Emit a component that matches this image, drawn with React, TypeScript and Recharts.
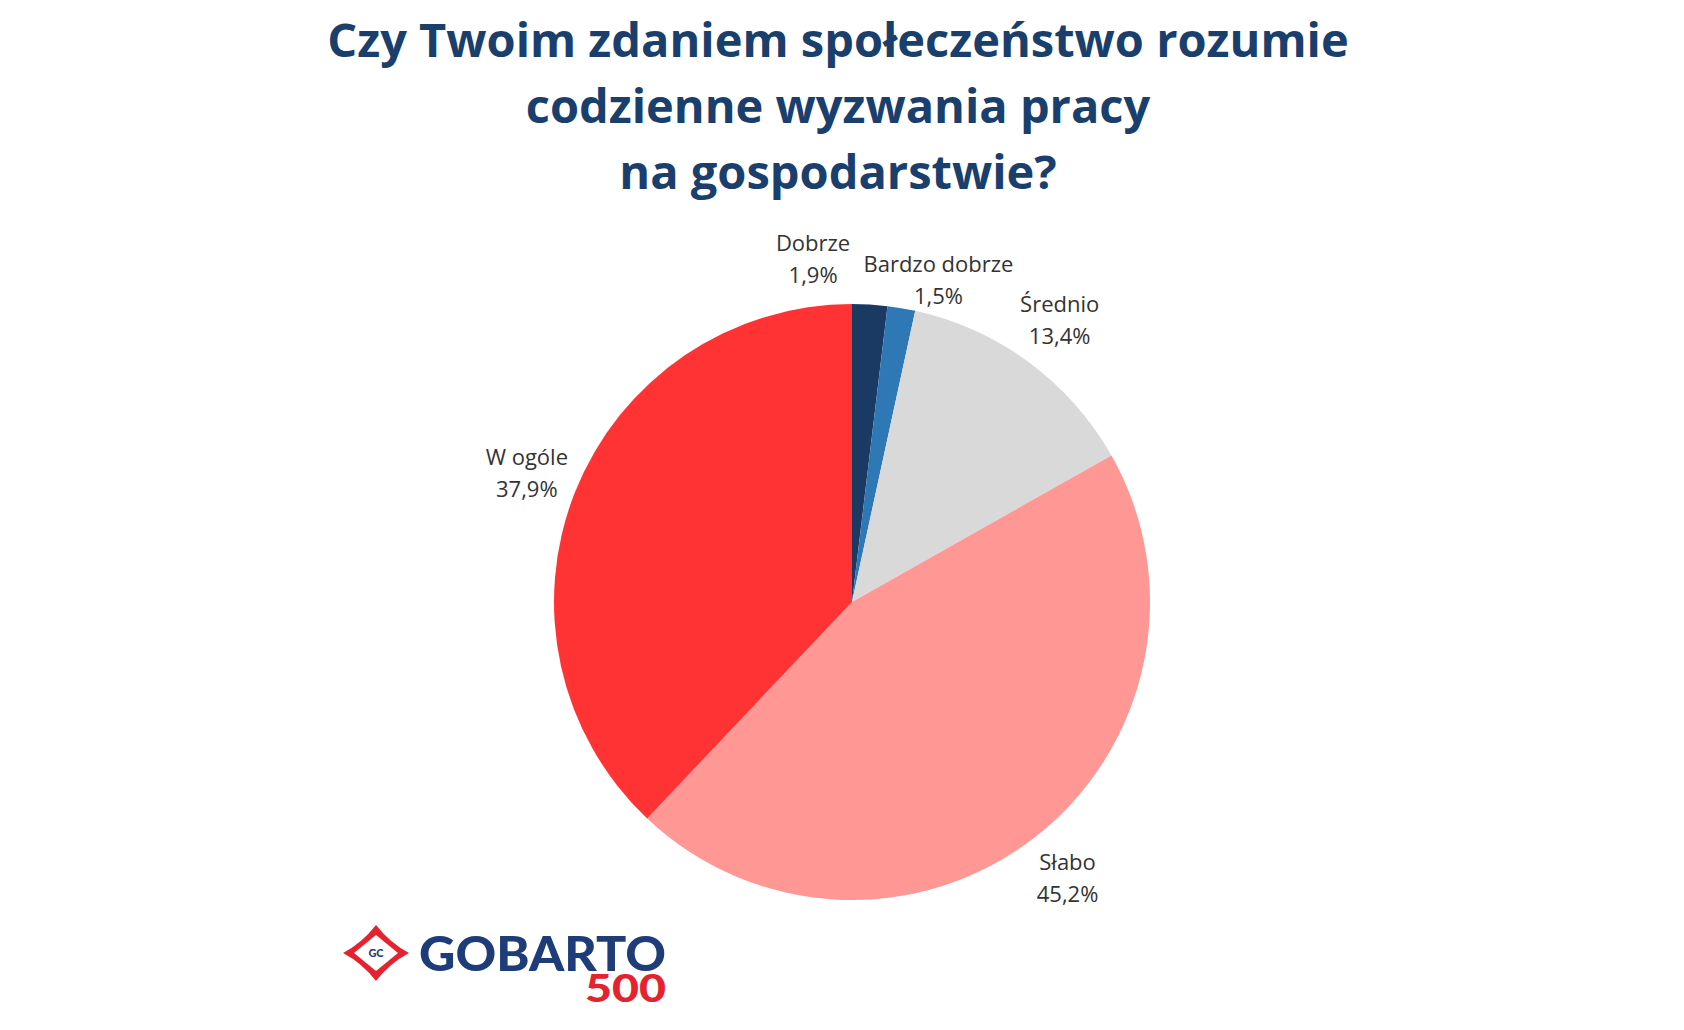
import React from "react";
import { PieChart, Pie, Cell } from "recharts";

const categories = ["Dobrze", "Bardzo dobrze", "Średnio", "Słabo", "W ogóle"];
const values = [1.9, 1.5, 13.4, 45.2, 37.9];
const colors = ["#1b3a63", "#2e78b5", "#d9d9d9", "#ff9795", "#ff3334"];
const titleLines = [
  "Czy Twoim zdaniem społeczeństwo rozumie",
  "codzienne wyzwania pracy",
  "na gospodarstwie?",
];

// label placement tweaks (clockwise degrees, radial distance)
const labelAngleShift: Record<string, number> = { Dobrze: -9.9, "Bardzo dobrze": 5.5 };
const labelDist: Record<string, number> = { Dobrze: 345, "Bardzo dobrze": 333 };

const data = categories.map((name, i) => ({ name, value: values[i] }));

const RAD = Math.PI / 180;

const renderLabel = (props: any) => {
  const { cx, cy, midAngle, name, value } = props;
  const theta = 90 - midAngle + (labelAngleShift[name] ?? 0);
  const dist = labelDist[name] ?? 350;
  const x = cx + dist * Math.sin(theta * RAD);
  const y = cy - dist * Math.cos(theta * RAD);
  const pct = value.toFixed(1).replace(".", ",") + "%";
  return (
    <text
      x={x}
      y={y}
      textAnchor="middle"
      fill="#333333"
      fontFamily="'Open Sans', sans-serif"
      fontSize={22}
    >
      <tspan x={x} y={y - 8}>{name}</tspan>
      <tspan x={x} y={y + 24}>{pct}</tspan>
    </text>
  );
};

export default function App() {
  return (
    <div style={{ position: "absolute", left: 0, top: 0, width: 1684, height: 1030, background: "#fff" }}>
      <PieChart width={1684} height={1030} margin={{ top: 0, right: 0, bottom: 0, left: 0 }}>
        <Pie
          data={data}
          dataKey="value"
          nameKey="name"
          cx={852}
          cy={602}
          outerRadius={298}
          startAngle={90}
          endAngle={-270}
          stroke="none"
          isAnimationActive={false}
          label={renderLabel}
          labelLine={false}
        >
          {data.map((d, i) => (
            <Cell key={d.name} fill={colors[i]} />
          ))}
        </Pie>
      </PieChart>
      <svg
        width={1684}
        height={1030}
        style={{ position: "absolute", left: 0, top: 0, pointerEvents: "none" }}
      >
        {titleLines.map((t, i) => (
          <text
            key={i}
            x={838}
            y={57 + i * 66}
            textAnchor="middle"
            fill="#1a3f6d"
            fontFamily="'Open Sans', sans-serif"
            fontWeight={700}
            fontSize={47}
          >
            {t}
          </text>
        ))}
        {/* logo */}
        <g>
          <path
            d="M343,953 Q362,943 376,925 Q390,943 409,953 Q390,963 376,981 Q362,963 343,953 Z"
            fill="#e52330"
          />
          <path
            d="M354,953 L376,935 L398,953 L376,971 Z"
            fill="#ffffff"
          />
          <ellipse cx={376} cy={953} rx={12} ry={9} fill="#ffffff" />
          <text x={376} y={957} textAnchor="middle" fontFamily="Lato, sans-serif" fontWeight={900} fontSize={11} fill="#1d3c78">GC</text>
          <text
            x={419}
            y={971}
            fontFamily="Lato, sans-serif"
            fontWeight={900}
            fontSize={48}
            fill="#1d3c78"
            textLength={247}
            lengthAdjust="spacingAndGlyphs"
          >
            GOBARTO
          </text>
          <text
            x={585}
            y={1002}
            fontFamily="Lato, sans-serif"
            fontWeight={900}
            fontSize={37}
            fill="#e52330"
            textLength={81}
            lengthAdjust="spacingAndGlyphs"
          >
            500
          </text>
        </g>
      </svg>
    </div>
  );
}
